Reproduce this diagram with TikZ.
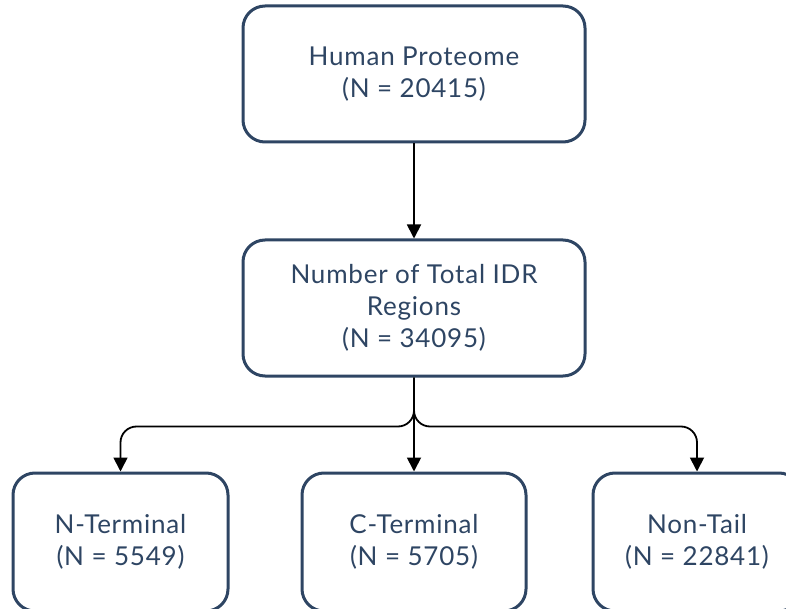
\documentclass[tikz,border=0pt]{standalone}
\usepackage{fontspec}
\setmainfont{Lato}[LetterSpace=3]
\usetikzlibrary{arrows.meta}
\definecolor{navy}{HTML}{2E4563}
\begin{document}
\begin{tikzpicture}[x=1pt,y=-1pt,
  box/.style={draw=navy, line width=3pt, rounded corners=22pt, text=navy,
    align=center, inner sep=0pt, font=\fontsize{26}{32}\selectfont},
  conn/.style={line width=1.8pt, -{Triangle[length=14pt,width=14pt]}}]
\useasboundingbox (0,0) rectangle (786,609);
\clip (0,0) rectangle (786,609);
\node[box, minimum width=342pt, minimum height=136pt] (top) at (414,74) {Human Proteome\\(N = 20415)};
\node[box, minimum width=342pt, minimum height=136pt] (mid) at (414,308) {Number of Total IDR\\Regions\\(N = 34095)};
\node[box, minimum width=215pt, minimum height=138pt] (nt) at (120.5,542) {N-Terminal\\(N = 5549)};
\node[box, minimum width=224pt, minimum height=138pt] (ct) at (414,542) {C-Terminal\\(N = 5705)};
\node[box, minimum width=208pt, minimum height=138pt] (nn) at (697,542) {Non-Tail\\(N = 22841)};
\draw[conn] (top) -- (mid);
\draw[conn] (mid.south) -- (ct.north);
\draw[conn, rounded corners=16pt] (mid.south) -- ++(0,49) -| (nt.north);
\draw[conn, rounded corners=16pt] (mid.south) -- ++(0,49) -| (nn.north);
\end{tikzpicture}
\end{document}
